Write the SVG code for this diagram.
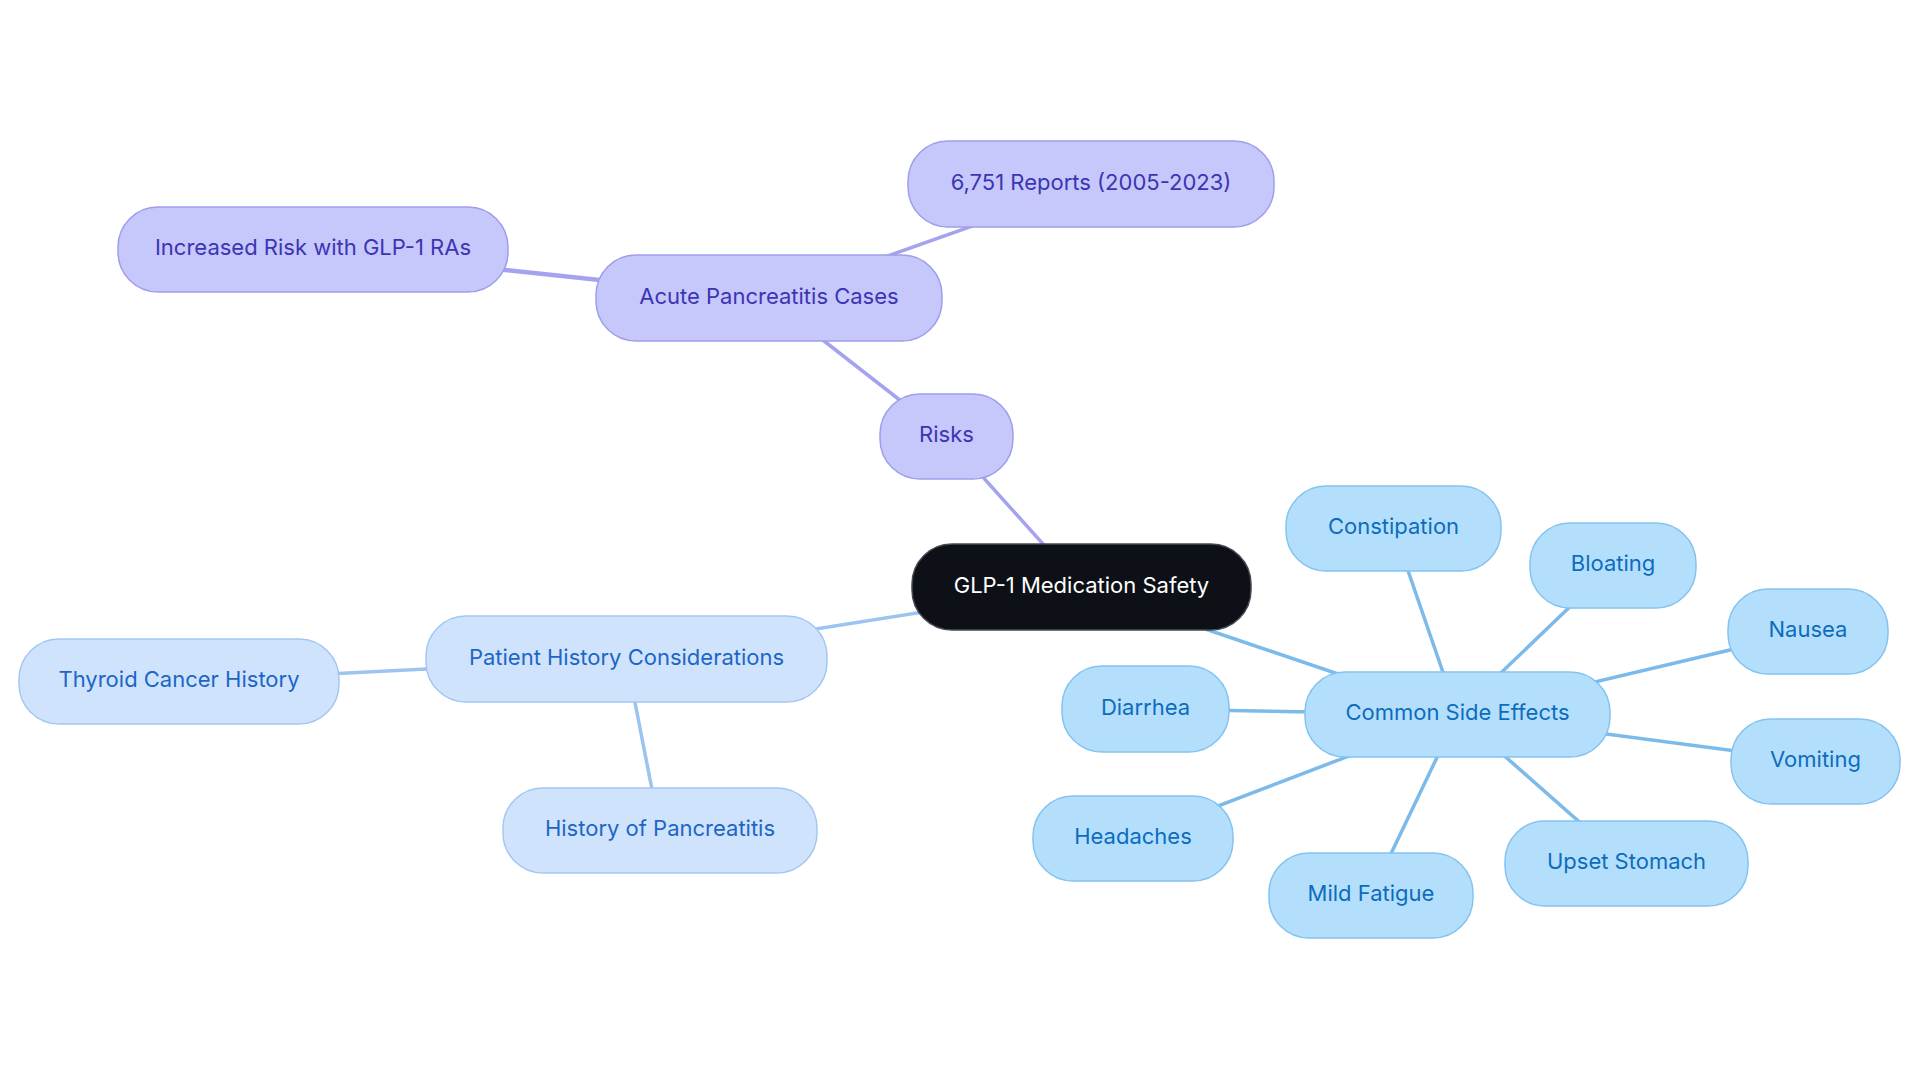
<svg xmlns="http://www.w3.org/2000/svg" width="1920" height="1083" viewBox="0 0 1920 1083">
<style>
text{font-family:Inter,"Noto Sans","Liberation Sans",sans-serif;font-size:22px;text-anchor:middle}
.p rect{fill:#c6c7fb;stroke:#9e9eec;stroke-width:1.5}
.p text{fill:#3b35b3}
.b rect{fill:#b4dffc;stroke:#84c3ef;stroke-width:1.5}
.b text{fill:#0d6cbd}
.h rect{fill:#cfe4fc;stroke:#a4c7f1;stroke-width:1.5}
.h text{fill:#1d66c6}
.c rect{fill:#0d1117;stroke:#454a52;stroke-width:1.5}
.c text{fill:#ffffff}
#edges line{stroke-width:3.5;stroke-linecap:round}
.ep{stroke:#a3a3ee}.eb{stroke:#7cbbe9}.eh{stroke:#9dc3ef}
</style>
<rect width="1920" height="1083" fill="#ffffff"/>
<g id="edges">
<line class="ep" x1="1081.5" y1="587" x2="946.5" y2="436.5"/>
<line class="ep" x1="946.5" y1="436.5" x2="769" y2="298"/>
<line class="ep" x1="769" y1="298" x2="1091" y2="184"/>
<line class="ep" x1="769" y1="298" x2="313" y2="249.5" style="stroke-width:4.5"/>
<line class="eh" x1="1081.5" y1="587" x2="626.5" y2="659"/>
<line class="eh" x1="626.5" y1="659" x2="179" y2="681.5"/>
<line class="eh" x1="626.5" y1="659" x2="660" y2="830.5"/>
<line class="eb" x1="1081.5" y1="587" x2="1457.5" y2="714.5"/>
<line class="eb" x1="1457.5" y1="714.5" x2="1145.5" y2="709"/>
<line class="eb" x1="1457.5" y1="714.5" x2="1133" y2="838.5"/>
<line class="eb" x1="1457.5" y1="714.5" x2="1371" y2="895.5"/>
<line class="eb" x1="1457.5" y1="714.5" x2="1626.5" y2="863.5"/>
<line class="eb" x1="1457.5" y1="714.5" x2="1815.5" y2="761.5"/>
<line class="eb" x1="1457.5" y1="714.5" x2="1393.5" y2="528.5"/>
<line class="eb" x1="1457.5" y1="714.5" x2="1613" y2="565.5"/>
<line class="eb" x1="1457.5" y1="714.5" x2="1808" y2="631.5"/>
</g>
<g id="n-root" class="c"><rect x="912" y="544" width="339" height="86" rx="40"/><text x="1081.5" y="592.5">GLP-1 Medication Safety</text></g>
<g id="n-risks" class="p"><rect x="880" y="394" width="133" height="85" rx="40"/><text x="946.5" y="442">Risks</text></g>
<g id="n-acute" class="p"><rect x="596" y="255" width="346" height="86" rx="40"/><text x="769" y="303.5">Acute Pancreatitis Cases</text></g>
<g id="n-reports" class="p"><rect x="908" y="141" width="366" height="86" rx="40"/><text x="1091" y="189.5">6,751 Reports (2005-2023)</text></g>
<g id="n-increased" class="p"><rect x="118" y="207" width="390" height="85" rx="40"/><text x="313" y="255">Increased Risk with GLP-1 RAs</text></g>
<g id="n-patient" class="h"><rect x="426" y="616" width="401" height="86" rx="40"/><text x="626.5" y="664.5">Patient History Considerations</text></g>
<g id="n-thyroid" class="h"><rect x="19" y="639" width="320" height="85" rx="40"/><text x="179" y="687">Thyroid Cancer History</text></g>
<g id="n-histpanc" class="h"><rect x="503" y="788" width="314" height="85" rx="40"/><text x="660" y="836">History of Pancreatitis</text></g>
<g id="n-common" class="b"><rect x="1305" y="672" width="305" height="85" rx="40"/><text x="1457.5" y="720">Common Side Effects</text></g>
<g id="n-diarrhea" class="b"><rect x="1062" y="666" width="167" height="86" rx="40"/><text x="1145.5" y="714.5">Diarrhea</text></g>
<g id="n-headaches" class="b"><rect x="1033" y="796" width="200" height="85" rx="40"/><text x="1133" y="844">Headaches</text></g>
<g id="n-fatigue" class="b"><rect x="1269" y="853" width="204" height="85" rx="40"/><text x="1371" y="901">Mild Fatigue</text></g>
<g id="n-upset" class="b"><rect x="1505" y="821" width="243" height="85" rx="40"/><text x="1626.5" y="869">Upset Stomach</text></g>
<g id="n-vomiting" class="b"><rect x="1731" y="719" width="169" height="85" rx="40"/><text x="1815.5" y="767">Vomiting</text></g>
<g id="n-constipation" class="b"><rect x="1286" y="486" width="215" height="85" rx="40"/><text x="1393.5" y="534">Constipation</text></g>
<g id="n-bloating" class="b"><rect x="1530" y="523" width="166" height="85" rx="40"/><text x="1613" y="571">Bloating</text></g>
<g id="n-nausea" class="b"><rect x="1728" y="589" width="160" height="85" rx="40"/><text x="1808" y="637">Nausea</text></g>
</svg>
